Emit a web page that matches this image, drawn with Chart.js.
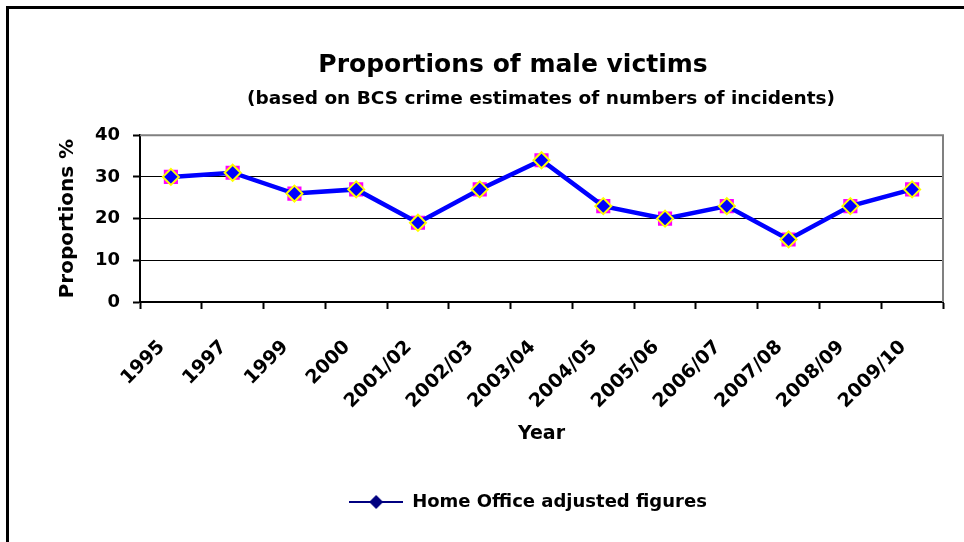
<!DOCTYPE html>
<html>
<head>
<meta charset="utf-8">
<script src="https://cdn.jsdelivr.net/npm/chart.js@4.4.1/dist/chart.umd.min.js"></script>
<style>
    html, body { margin: 0; padding: 0; background: #fff; }
</style>
</head>
<body>
<canvas id="chart" width="964" height="542"></canvas>
<script>
// Data
const years = ['1995', '1997', '1999', '2000', '2001/02', '2002/03', '2003/04',
    '2004/05', '2005/06', '2006/07', '2007/08', '2008/09', '2009/10'];
const maleVictims = [30, 31, 26, 27, 19, 27, 34, 23, 20, 23, 15, 23, 27];
const yTicks = [0, 10, 20, 30, 40];
const seriesName = 'Home Office adjusted figures';
const titleText = 'Proportions of male victims';
const subtitleText = '(based on BCS crime estimates of numbers of incidents)';

Chart.defaults.font.family = "'DejaVu Sans', sans-serif";
Chart.defaults.font.weight = 'bold';
Chart.defaults.color = '#000';

// legend symbol: line with a diamond
function legendMarker() {
    const c = document.createElement('canvas');
    c.width = 54; c.height = 16;
    const g = c.getContext('2d');
    g.strokeStyle = '#000080';
    g.lineWidth = 2;
    g.beginPath(); g.moveTo(0, 8); g.lineTo(54, 8); g.stroke();
    g.fillStyle = '#000080';
    g.beginPath();
    g.moveTo(27, 1); g.lineTo(34, 8); g.lineTo(27, 15); g.lineTo(20, 8);
    g.closePath(); g.fill();
    return c;
}

// centre a layout box on a given x
function centreBox(box, cx) {
    const w = box.right - box.left;
    box.left = cx - w / 2;
    box.right = box.left + w;
}

// page frame, plot border, box offsets
const framePlugin = {
    id: 'frame',
    afterLayout(chart) {
        chart.boxes.forEach(b => {
            if (b === chart.legend) centreBox(b, 528);
            else if (b.options && b.options.text === titleText) centreBox(b, 513);
            else if (b.options && b.options.text === subtitleText) centreBox(b, 541);
        });
    },
    beforeDraw(chart) {
        const ctx = chart.ctx;
        ctx.save();
        ctx.fillStyle = '#fff';
        ctx.fillRect(0, 0, chart.width, chart.height);
        ctx.fillStyle = '#000';
        ctx.fillRect(6, 6, chart.width, 3);
        ctx.fillRect(6, 6, 3, chart.height);
        ctx.restore();
    },
    beforeDatasetsDraw(chart) {
        const { ctx, chartArea: a } = chart;
        ctx.save();
        ctx.strokeStyle = '#808080';
        ctx.lineWidth = 2;
        ctx.beginPath();
        ctx.moveTo(a.left, a.top);
        ctx.lineTo(a.right, a.top);
        ctx.lineTo(a.right, a.bottom);
        ctx.stroke();
        ctx.restore();
    }
};

new Chart(document.getElementById('chart'), {
    type: 'line',
    data: {
        labels: years,
        datasets: [
            {
                label: seriesName,
                data: maleVictims,
                borderColor: '#0000ff',
                borderWidth: 4.5,
                tension: 0,
                pointStyle: 'rectRot',
                pointRadius: 8,
                pointBackgroundColor: '#0000ff',
                pointBorderColor: '#ffff00',
                pointBorderWidth: 2,
                order: 0
            },
            {
                label: 'marker shadow',
                data: maleVictims,
                showLine: false,
                pointStyle: 'rect',
                pointRadius: 10,
                pointBackgroundColor: '#ff00ff',
                pointBorderWidth: 0,
                order: 1
            }
        ]
    },
    options: {
        responsive: false,
        animation: false,
        layout: { padding: { left: 56, right: 21, top: 0, bottom: 21 } },
        plugins: {
            tooltip: { enabled: false },
            title: {
                display: true,
                text: titleText,
                font: { size: 25 },
                padding: { top: 50, bottom: 8 }
            },
            subtitle: {
                display: true,
                text: subtitleText,
                font: { size: 18.5, weight: 'bold' },
                color: '#000',
                padding: { top: 0, bottom: 25 }
            },
            legend: {
                position: 'bottom',
                labels: {
                    filter: item => item.datasetIndex === 0,
                    usePointStyle: true,
                    pointStyle: legendMarker(),
                    pointStyleWidth: 54,
                    padding: 10,
                    font: { size: 18 }
                }
            }
        },
        scales: {
            x: {
                offset: true,
                grid: { offset: true, drawOnChartArea: false, color: '#000', tickLength: 7, tickWidth: 2 },
                border: { color: '#000', width: 2 },
                ticks: { autoSkip: false, minRotation: 45, maxRotation: 45, padding: 27, labelOffset: -9, font: { size: 19 } },
                title: { display: true, text: 'Year', font: { size: 19 }, padding: { top: 0, bottom: 38 } },
                afterFit: s => { s.height = 181; }
            },
            y: {
                min: 0,
                max: 40,
                afterBuildTicks: s => { s.ticks = yTicks.map(v => ({ value: v })); },
                grid: { color: '#000', lineWidth: 1, tickLength: 7, tickWidth: 2, tickColor: '#000' },
                border: { color: '#000', width: 2 },
                ticks: { padding: 13, font: { size: 18 } },
                title: { display: true, text: 'Proportions %', font: { size: 20 }, padding: 0 },
                afterFit: s => { s.width = 84; }
            }
        }
    },
    plugins: [framePlugin]
});
</script>
</body>
</html>
